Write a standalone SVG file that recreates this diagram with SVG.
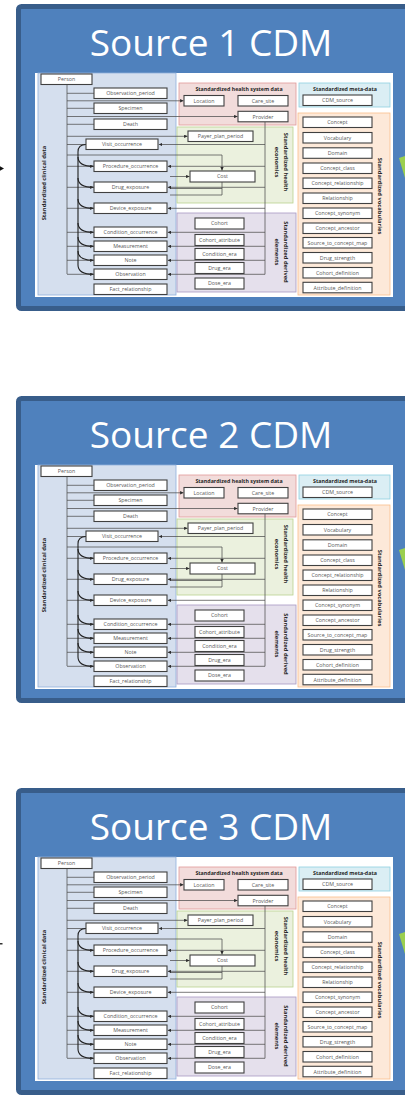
<svg xmlns="http://www.w3.org/2000/svg" width="405" height="1103" viewBox="0 0 405 1103">
  <style>
    .frame{fill:#4f81bd;stroke:#385d8a;stroke-width:5}
    .title{font-family:"Open Sans","Liberation Sans",sans-serif;font-size:37px;fill:#fff;text-anchor:middle}
    .sheet{fill:#fff}
    .clin{fill:#d5dfee;stroke:#8eaedb;stroke-width:0.8}
    .hsys{fill:#f2dcdb;stroke:#e09a9a;stroke-width:0.8}
    .econ{fill:#ebf1de;stroke:#b9d38e;stroke-width:0.8}
    .deriv{fill:#e5e0ec;stroke:#a898c4;stroke-width:0.8}
    .meta{fill:#dbeef4;stroke:#8fd0e2;stroke-width:0.8}
    .vocab{fill:#fde9d9;stroke:#f9be8c;stroke-width:0.8}
    .tbl rect{fill:#fff;stroke:#404040;stroke-width:1.1}
    .tbl text{font-family:"Open Sans","Liberation Sans",sans-serif;font-size:5.3px;fill:#595959;text-anchor:middle}
    .hdr{font-family:"Open Sans","Liberation Sans",sans-serif;font-weight:bold;font-size:5.3px;fill:#262626;text-anchor:middle}
    .vlab{font-family:"Open Sans","Liberation Sans",sans-serif;font-weight:bold;font-size:5.8px;fill:#262626;text-anchor:middle}
    .conn{fill:none;stroke:#4d4d4d;stroke-width:0.75}
    .curve{fill:none;stroke:#1f1f1f;stroke-width:1.1}
    .to{marker-end:url(#arr)}
    .green{fill:#9bcf4f}
  </style>
  <defs>
    <marker id="arr" viewBox="0 0 6 6" refX="6" refY="3" markerWidth="3.4" markerHeight="3.4" orient="auto" markerUnits="userSpaceOnUse">
      <path d="M0,0 L6,3 L0,6 z" fill="#2b2b2b"/>
    </marker>
  </defs>

  <!-- ============ Source 1 ============ -->
  <g id="source1">
    <rect class="frame" x="18.5" y="6.5" width="400" height="302" rx="3"/>
    <text class="title" x="211" y="56">Source 1 CDM</text>
    <rect class="sheet" x="35" y="73" width="358" height="224"/>
    <g id="s1-areas">
      <rect class="clin" x="38" y="73" width="138" height="222"/>
      <rect class="hsys" x="179" y="83" width="117" height="42"/>
      <rect class="econ" x="177" y="127" width="116" height="76"/>
      <rect class="deriv" x="177" y="213" width="119" height="79"/>
      <rect class="meta" x="299" y="83" width="91" height="24"/>
      <rect class="vocab" x="298" y="113" width="92" height="182"/>
      <text class="hdr" x="239" y="91">Standardized health system data</text>
      <text class="hdr" x="345" y="91">Standardized meta-data</text>
      <text class="vlab" transform="translate(46,183) rotate(-90)">Standardized clinical data</text>
      <text class="vlab" transform="translate(283.5,162) rotate(90)">Standardized health</text>
      <text class="vlab" transform="translate(274.5,162) rotate(90)">economics</text>
      <text class="vlab" transform="translate(283.5,252) rotate(90)">Standardized derived</text>
      <text class="vlab" transform="translate(274.5,252) rotate(90)">elements</text>
      <text class="vlab" transform="translate(377.5,196) rotate(90)">Standardized vocabularies</text>
    </g>
    <g id="s1-connectors">
      <path class="conn" d="M67,84.5 V274 M67,93.3 H94 M67,108.3 H94 M67,124.3 H94 M67,144.5 H86 M67,166.3 H94 M67,187.3 H94 M67,208.3 H94 M67,232.3 H94 M67,246.3 H94 M67,260.3 H94 M67,274.3 H94"/>
      <path class="conn to" d="M67,100.8 H183.5"/>
      <path class="conn to" d="M67,116.5 H237.5"/>
      <path class="conn to" d="M67,136.3 H187.5"/>
      <path class="conn to" d="M67,155 H222 V170.5"/>
      <path class="conn to" d="M170,176.5 H189.5"/>
      <path class="conn" d="M222,182 V195 H170 M222,188.5 H170"/>
      <path class="conn" d="M265,122 V274.3"/>
      <path class="conn to" d="M265,144.5 H158.8"/>
      <path class="conn to" d="M265,166.3 H167.8"/>
      <path class="conn to" d="M265,187.3 H167.8"/>
      <path class="conn to" d="M265,208.3 H167.8"/>
      <path class="conn to" d="M265,232.3 H167.8"/>
      <path class="conn to" d="M265,246.3 H167.8"/>
      <path class="conn to" d="M265,260.3 H167.8"/>
      <path class="conn to" d="M265,274.3 H167.8"/>
      <path class="curve" d="M86,144.5 C80,144.5 78,147 78,152 V265"/>
      <path class="curve to" d="M78,157 C78,163 83,166.3 93.5,166.3"/>
      <path class="curve to" d="M78,178 C78,184 83,187.3 93.5,187.3"/>
      <path class="curve to" d="M78,199 C78,205 83,208.3 93.5,208.3"/>
      <path class="curve to" d="M78,223 C78,229 83,232.3 93.5,232.3"/>
      <path class="curve to" d="M78,237 C78,243 83,246.3 93.5,246.3"/>
      <path class="curve to" d="M78,251 C78,257 83,260.3 93.5,260.3"/>
      <path class="curve to" d="M78,265 C78,271 83,274.3 93.5,274.3"/>
    </g>
    <g id="s1-person" class="tbl"><rect x="41" y="74" width="51" height="10.5"/><text x="66.5" y="81.2">Person</text></g>
    <g id="s1-observation-period" class="tbl"><rect x="94" y="88" width="73" height="10.5"/><text x="130.5" y="95.2">Observation_period</text></g>
    <g id="s1-specimen" class="tbl"><rect x="94" y="103" width="73" height="10.5"/><text x="130.5" y="110.2">Specimen</text></g>
    <g id="s1-death" class="tbl"><rect x="94" y="119" width="73" height="10.5"/><text x="130.5" y="126.2">Death</text></g>
    <g id="s1-visit-occurrence" class="tbl"><rect x="86" y="139" width="72" height="10.5"/><text x="122" y="146.2">Visit_occurrence</text></g>
    <g id="s1-procedure-occurrence" class="tbl"><rect x="94" y="161" width="73" height="10.5"/><text x="130.5" y="168.2">Procedure_occurrence</text></g>
    <g id="s1-drug-exposure" class="tbl"><rect x="94" y="182" width="73" height="10.5"/><text x="130.5" y="189.2">Drug_exposure</text></g>
    <g id="s1-device-exposure" class="tbl"><rect x="94" y="203" width="73" height="10.5"/><text x="130.5" y="210.2">Device_exposure</text></g>
    <g id="s1-condition-occurrence" class="tbl"><rect x="94" y="227" width="73" height="10.5"/><text x="130.5" y="234.2">Condition_occurrence</text></g>
    <g id="s1-measurement" class="tbl"><rect x="94" y="241" width="73" height="10.5"/><text x="130.5" y="248.2">Measurement</text></g>
    <g id="s1-note" class="tbl"><rect x="94" y="255" width="73" height="10.5"/><text x="130.5" y="262.2">Note</text></g>
    <g id="s1-observation" class="tbl"><rect x="94" y="269" width="73" height="10.5"/><text x="130.5" y="276.2">Observation</text></g>
    <g id="s1-fact-relationship" class="tbl"><rect x="94" y="284" width="73" height="10.5"/><text x="130.5" y="291.2">Fact_relationship</text></g>
    <g id="s1-location" class="tbl"><rect x="184" y="95.5" width="40" height="10.5"/><text x="204" y="102.7">Location</text></g>
    <g id="s1-care-site" class="tbl"><rect x="238" y="95.5" width="50" height="10.5"/><text x="263" y="102.7">Care_site</text></g>
    <g id="s1-provider" class="tbl"><rect x="238" y="111.3" width="50" height="10.5"/><text x="263" y="118.5">Provider</text></g>
    <g id="s1-payer-plan-period" class="tbl"><rect x="188" y="131" width="65" height="10.5"/><text x="220.5" y="138.2">Payer_plan_period</text></g>
    <g id="s1-cost" class="tbl"><rect x="190" y="171" width="65" height="11"/><text x="222.5" y="178.4">Cost</text></g>
    <g id="s1-cohort" class="tbl"><rect x="195" y="218" width="49" height="11"/><text x="219.5" y="225.4">Cohort</text></g>
    <g id="s1-cohort-attribute" class="tbl"><rect x="195" y="234.5" width="49" height="11"/><text x="219.5" y="241.9">Cohort_attribute</text></g>
    <g id="s1-condition-era" class="tbl"><rect x="195" y="248.5" width="49" height="11"/><text x="219.5" y="255.9">Condition_era</text></g>
    <g id="s1-drug-era" class="tbl"><rect x="195" y="262.5" width="49" height="11"/><text x="219.5" y="269.9">Drug_era</text></g>
    <g id="s1-dose-era" class="tbl"><rect x="195" y="278" width="49" height="11"/><text x="219.5" y="285.4">Dose_era</text></g>
    <g id="s1-cdm-source" class="tbl"><rect x="303" y="95" width="69" height="10.5"/><text x="337.5" y="102.2">CDM_source</text></g>
    <g id="s1-concept" class="tbl"><rect x="303" y="117" width="69" height="10.5"/><text x="337.5" y="124.2">Concept</text></g>
    <g id="s1-vocabulary" class="tbl"><rect x="303" y="132.5" width="69" height="10.5"/><text x="337.5" y="139.7">Vocabulary</text></g>
    <g id="s1-domain" class="tbl"><rect x="303" y="147.8" width="69" height="10.5"/><text x="337.5" y="155">Domain</text></g>
    <g id="s1-concept-class" class="tbl"><rect x="303" y="163" width="69" height="10.5"/><text x="337.5" y="170.2">Concept_class</text></g>
    <g id="s1-concept-relationship" class="tbl"><rect x="303" y="178" width="69" height="10.5"/><text x="337.5" y="185.2">Concept_relationship</text></g>
    <g id="s1-relationship" class="tbl"><rect x="303" y="193" width="69" height="10.5"/><text x="337.5" y="200.2">Relationship</text></g>
    <g id="s1-concept-synonym" class="tbl"><rect x="303" y="208" width="69" height="10.5"/><text x="337.5" y="215.2">Concept_synonym</text></g>
    <g id="s1-concept-ancestor" class="tbl"><rect x="303" y="223" width="69" height="10.5"/><text x="337.5" y="230.2">Concept_ancestor</text></g>
    <g id="s1-source-to-concept-map" class="tbl"><rect x="303" y="237.5" width="69" height="10.5"/><text x="337.5" y="244.7">Source_to_concept_map</text></g>
    <g id="s1-drug-strength" class="tbl"><rect x="303" y="252.5" width="69" height="10.5"/><text x="337.5" y="259.7">Drug_strength</text></g>
    <g id="s1-cohort-definition" class="tbl"><rect x="303" y="267.5" width="69" height="10.5"/><text x="337.5" y="274.7">Cohort_definition</text></g>
    <g id="s1-attribute-definition" class="tbl"><rect x="303" y="282.3" width="69" height="10.5"/><text x="337.5" y="289.5">Attribute_definition</text></g>
    <path d="M0,166.3 L4,168.5 L0,170.7 z" fill="#111"/>
    <polygon class="green" points="399,158 405,156 405,178"/>
  </g>

  <!-- ============ Source 2 ============ -->
  <g id="source2" transform="translate(0,392)">
    <rect class="frame" x="18.5" y="6.5" width="400" height="302" rx="3"/>
    <text class="title" x="211" y="56">Source 2 CDM</text>
    <rect class="sheet" x="35" y="73" width="358" height="224"/>
    <g id="s2-areas">
      <rect class="clin" x="38" y="73" width="138" height="222"/>
      <rect class="hsys" x="179" y="83" width="117" height="42"/>
      <rect class="econ" x="177" y="127" width="116" height="76"/>
      <rect class="deriv" x="177" y="213" width="119" height="79"/>
      <rect class="meta" x="299" y="83" width="91" height="24"/>
      <rect class="vocab" x="298" y="113" width="92" height="182"/>
      <text class="hdr" x="239" y="91">Standardized health system data</text>
      <text class="hdr" x="345" y="91">Standardized meta-data</text>
      <text class="vlab" transform="translate(46,183) rotate(-90)">Standardized clinical data</text>
      <text class="vlab" transform="translate(283.5,162) rotate(90)">Standardized health</text>
      <text class="vlab" transform="translate(274.5,162) rotate(90)">economics</text>
      <text class="vlab" transform="translate(283.5,252) rotate(90)">Standardized derived</text>
      <text class="vlab" transform="translate(274.5,252) rotate(90)">elements</text>
      <text class="vlab" transform="translate(377.5,196) rotate(90)">Standardized vocabularies</text>
    </g>
    <g id="s2-connectors">
      <path class="conn" d="M67,84.5 V274 M67,93.3 H94 M67,108.3 H94 M67,124.3 H94 M67,144.5 H86 M67,166.3 H94 M67,187.3 H94 M67,208.3 H94 M67,232.3 H94 M67,246.3 H94 M67,260.3 H94 M67,274.3 H94"/>
      <path class="conn to" d="M67,100.8 H183.5"/>
      <path class="conn to" d="M67,116.5 H237.5"/>
      <path class="conn to" d="M67,136.3 H187.5"/>
      <path class="conn to" d="M67,155 H222 V170.5"/>
      <path class="conn to" d="M170,176.5 H189.5"/>
      <path class="conn" d="M222,182 V195 H170 M222,188.5 H170"/>
      <path class="conn" d="M265,122 V274.3"/>
      <path class="conn to" d="M265,144.5 H158.8"/>
      <path class="conn to" d="M265,166.3 H167.8"/>
      <path class="conn to" d="M265,187.3 H167.8"/>
      <path class="conn to" d="M265,208.3 H167.8"/>
      <path class="conn to" d="M265,232.3 H167.8"/>
      <path class="conn to" d="M265,246.3 H167.8"/>
      <path class="conn to" d="M265,260.3 H167.8"/>
      <path class="conn to" d="M265,274.3 H167.8"/>
      <path class="curve" d="M86,144.5 C80,144.5 78,147 78,152 V265"/>
      <path class="curve to" d="M78,157 C78,163 83,166.3 93.5,166.3"/>
      <path class="curve to" d="M78,178 C78,184 83,187.3 93.5,187.3"/>
      <path class="curve to" d="M78,199 C78,205 83,208.3 93.5,208.3"/>
      <path class="curve to" d="M78,223 C78,229 83,232.3 93.5,232.3"/>
      <path class="curve to" d="M78,237 C78,243 83,246.3 93.5,246.3"/>
      <path class="curve to" d="M78,251 C78,257 83,260.3 93.5,260.3"/>
      <path class="curve to" d="M78,265 C78,271 83,274.3 93.5,274.3"/>
    </g>
    <g id="s2-person" class="tbl"><rect x="41" y="74" width="51" height="10.5"/><text x="66.5" y="81.2">Person</text></g>
    <g id="s2-observation-period" class="tbl"><rect x="94" y="88" width="73" height="10.5"/><text x="130.5" y="95.2">Observation_period</text></g>
    <g id="s2-specimen" class="tbl"><rect x="94" y="103" width="73" height="10.5"/><text x="130.5" y="110.2">Specimen</text></g>
    <g id="s2-death" class="tbl"><rect x="94" y="119" width="73" height="10.5"/><text x="130.5" y="126.2">Death</text></g>
    <g id="s2-visit-occurrence" class="tbl"><rect x="86" y="139" width="72" height="10.5"/><text x="122" y="146.2">Visit_occurrence</text></g>
    <g id="s2-procedure-occurrence" class="tbl"><rect x="94" y="161" width="73" height="10.5"/><text x="130.5" y="168.2">Procedure_occurrence</text></g>
    <g id="s2-drug-exposure" class="tbl"><rect x="94" y="182" width="73" height="10.5"/><text x="130.5" y="189.2">Drug_exposure</text></g>
    <g id="s2-device-exposure" class="tbl"><rect x="94" y="203" width="73" height="10.5"/><text x="130.5" y="210.2">Device_exposure</text></g>
    <g id="s2-condition-occurrence" class="tbl"><rect x="94" y="227" width="73" height="10.5"/><text x="130.5" y="234.2">Condition_occurrence</text></g>
    <g id="s2-measurement" class="tbl"><rect x="94" y="241" width="73" height="10.5"/><text x="130.5" y="248.2">Measurement</text></g>
    <g id="s2-note" class="tbl"><rect x="94" y="255" width="73" height="10.5"/><text x="130.5" y="262.2">Note</text></g>
    <g id="s2-observation" class="tbl"><rect x="94" y="269" width="73" height="10.5"/><text x="130.5" y="276.2">Observation</text></g>
    <g id="s2-fact-relationship" class="tbl"><rect x="94" y="284" width="73" height="10.5"/><text x="130.5" y="291.2">Fact_relationship</text></g>
    <g id="s2-location" class="tbl"><rect x="184" y="95.5" width="40" height="10.5"/><text x="204" y="102.7">Location</text></g>
    <g id="s2-care-site" class="tbl"><rect x="238" y="95.5" width="50" height="10.5"/><text x="263" y="102.7">Care_site</text></g>
    <g id="s2-provider" class="tbl"><rect x="238" y="111.3" width="50" height="10.5"/><text x="263" y="118.5">Provider</text></g>
    <g id="s2-payer-plan-period" class="tbl"><rect x="188" y="131" width="65" height="10.5"/><text x="220.5" y="138.2">Payer_plan_period</text></g>
    <g id="s2-cost" class="tbl"><rect x="190" y="171" width="65" height="11"/><text x="222.5" y="178.4">Cost</text></g>
    <g id="s2-cohort" class="tbl"><rect x="195" y="218" width="49" height="11"/><text x="219.5" y="225.4">Cohort</text></g>
    <g id="s2-cohort-attribute" class="tbl"><rect x="195" y="234.5" width="49" height="11"/><text x="219.5" y="241.9">Cohort_attribute</text></g>
    <g id="s2-condition-era" class="tbl"><rect x="195" y="248.5" width="49" height="11"/><text x="219.5" y="255.9">Condition_era</text></g>
    <g id="s2-drug-era" class="tbl"><rect x="195" y="262.5" width="49" height="11"/><text x="219.5" y="269.9">Drug_era</text></g>
    <g id="s2-dose-era" class="tbl"><rect x="195" y="278" width="49" height="11"/><text x="219.5" y="285.4">Dose_era</text></g>
    <g id="s2-cdm-source" class="tbl"><rect x="303" y="95" width="69" height="10.5"/><text x="337.5" y="102.2">CDM_source</text></g>
    <g id="s2-concept" class="tbl"><rect x="303" y="117" width="69" height="10.5"/><text x="337.5" y="124.2">Concept</text></g>
    <g id="s2-vocabulary" class="tbl"><rect x="303" y="132.5" width="69" height="10.5"/><text x="337.5" y="139.7">Vocabulary</text></g>
    <g id="s2-domain" class="tbl"><rect x="303" y="147.8" width="69" height="10.5"/><text x="337.5" y="155">Domain</text></g>
    <g id="s2-concept-class" class="tbl"><rect x="303" y="163" width="69" height="10.5"/><text x="337.5" y="170.2">Concept_class</text></g>
    <g id="s2-concept-relationship" class="tbl"><rect x="303" y="178" width="69" height="10.5"/><text x="337.5" y="185.2">Concept_relationship</text></g>
    <g id="s2-relationship" class="tbl"><rect x="303" y="193" width="69" height="10.5"/><text x="337.5" y="200.2">Relationship</text></g>
    <g id="s2-concept-synonym" class="tbl"><rect x="303" y="208" width="69" height="10.5"/><text x="337.5" y="215.2">Concept_synonym</text></g>
    <g id="s2-concept-ancestor" class="tbl"><rect x="303" y="223" width="69" height="10.5"/><text x="337.5" y="230.2">Concept_ancestor</text></g>
    <g id="s2-source-to-concept-map" class="tbl"><rect x="303" y="237.5" width="69" height="10.5"/><text x="337.5" y="244.7">Source_to_concept_map</text></g>
    <g id="s2-drug-strength" class="tbl"><rect x="303" y="252.5" width="69" height="10.5"/><text x="337.5" y="259.7">Drug_strength</text></g>
    <g id="s2-cohort-definition" class="tbl"><rect x="303" y="267.5" width="69" height="10.5"/><text x="337.5" y="274.7">Cohort_definition</text></g>
    <g id="s2-attribute-definition" class="tbl"><rect x="303" y="282.3" width="69" height="10.5"/><text x="337.5" y="289.5">Attribute_definition</text></g>
    <polygon class="green" points="399,158 405,156 405,178"/>
  </g>

  <!-- ============ Source 3 ============ -->
  <g id="source3" transform="translate(0,784)">
    <rect class="frame" x="18.5" y="6.5" width="400" height="302" rx="3"/>
    <text class="title" x="211" y="56">Source 3 CDM</text>
    <rect class="sheet" x="35" y="73" width="358" height="224"/>
    <g id="s3-areas">
      <rect class="clin" x="38" y="73" width="138" height="222"/>
      <rect class="hsys" x="179" y="83" width="117" height="42"/>
      <rect class="econ" x="177" y="127" width="116" height="76"/>
      <rect class="deriv" x="177" y="213" width="119" height="79"/>
      <rect class="meta" x="299" y="83" width="91" height="24"/>
      <rect class="vocab" x="298" y="113" width="92" height="182"/>
      <text class="hdr" x="239" y="91">Standardized health system data</text>
      <text class="hdr" x="345" y="91">Standardized meta-data</text>
      <text class="vlab" transform="translate(46,183) rotate(-90)">Standardized clinical data</text>
      <text class="vlab" transform="translate(283.5,162) rotate(90)">Standardized health</text>
      <text class="vlab" transform="translate(274.5,162) rotate(90)">economics</text>
      <text class="vlab" transform="translate(283.5,252) rotate(90)">Standardized derived</text>
      <text class="vlab" transform="translate(274.5,252) rotate(90)">elements</text>
      <text class="vlab" transform="translate(377.5,196) rotate(90)">Standardized vocabularies</text>
    </g>
    <g id="s3-connectors">
      <path class="conn" d="M67,84.5 V274 M67,93.3 H94 M67,108.3 H94 M67,124.3 H94 M67,144.5 H86 M67,166.3 H94 M67,187.3 H94 M67,208.3 H94 M67,232.3 H94 M67,246.3 H94 M67,260.3 H94 M67,274.3 H94"/>
      <path class="conn to" d="M67,100.8 H183.5"/>
      <path class="conn to" d="M67,116.5 H237.5"/>
      <path class="conn to" d="M67,136.3 H187.5"/>
      <path class="conn to" d="M67,155 H222 V170.5"/>
      <path class="conn to" d="M170,176.5 H189.5"/>
      <path class="conn" d="M222,182 V195 H170 M222,188.5 H170"/>
      <path class="conn" d="M265,122 V274.3"/>
      <path class="conn to" d="M265,144.5 H158.8"/>
      <path class="conn to" d="M265,166.3 H167.8"/>
      <path class="conn to" d="M265,187.3 H167.8"/>
      <path class="conn to" d="M265,208.3 H167.8"/>
      <path class="conn to" d="M265,232.3 H167.8"/>
      <path class="conn to" d="M265,246.3 H167.8"/>
      <path class="conn to" d="M265,260.3 H167.8"/>
      <path class="conn to" d="M265,274.3 H167.8"/>
      <path class="curve" d="M86,144.5 C80,144.5 78,147 78,152 V265"/>
      <path class="curve to" d="M78,157 C78,163 83,166.3 93.5,166.3"/>
      <path class="curve to" d="M78,178 C78,184 83,187.3 93.5,187.3"/>
      <path class="curve to" d="M78,199 C78,205 83,208.3 93.5,208.3"/>
      <path class="curve to" d="M78,223 C78,229 83,232.3 93.5,232.3"/>
      <path class="curve to" d="M78,237 C78,243 83,246.3 93.5,246.3"/>
      <path class="curve to" d="M78,251 C78,257 83,260.3 93.5,260.3"/>
      <path class="curve to" d="M78,265 C78,271 83,274.3 93.5,274.3"/>
    </g>
    <g id="s3-person" class="tbl"><rect x="41" y="74" width="51" height="10.5"/><text x="66.5" y="81.2">Person</text></g>
    <g id="s3-observation-period" class="tbl"><rect x="94" y="88" width="73" height="10.5"/><text x="130.5" y="95.2">Observation_period</text></g>
    <g id="s3-specimen" class="tbl"><rect x="94" y="103" width="73" height="10.5"/><text x="130.5" y="110.2">Specimen</text></g>
    <g id="s3-death" class="tbl"><rect x="94" y="119" width="73" height="10.5"/><text x="130.5" y="126.2">Death</text></g>
    <g id="s3-visit-occurrence" class="tbl"><rect x="86" y="139" width="72" height="10.5"/><text x="122" y="146.2">Visit_occurrence</text></g>
    <g id="s3-procedure-occurrence" class="tbl"><rect x="94" y="161" width="73" height="10.5"/><text x="130.5" y="168.2">Procedure_occurrence</text></g>
    <g id="s3-drug-exposure" class="tbl"><rect x="94" y="182" width="73" height="10.5"/><text x="130.5" y="189.2">Drug_exposure</text></g>
    <g id="s3-device-exposure" class="tbl"><rect x="94" y="203" width="73" height="10.5"/><text x="130.5" y="210.2">Device_exposure</text></g>
    <g id="s3-condition-occurrence" class="tbl"><rect x="94" y="227" width="73" height="10.5"/><text x="130.5" y="234.2">Condition_occurrence</text></g>
    <g id="s3-measurement" class="tbl"><rect x="94" y="241" width="73" height="10.5"/><text x="130.5" y="248.2">Measurement</text></g>
    <g id="s3-note" class="tbl"><rect x="94" y="255" width="73" height="10.5"/><text x="130.5" y="262.2">Note</text></g>
    <g id="s3-observation" class="tbl"><rect x="94" y="269" width="73" height="10.5"/><text x="130.5" y="276.2">Observation</text></g>
    <g id="s3-fact-relationship" class="tbl"><rect x="94" y="284" width="73" height="10.5"/><text x="130.5" y="291.2">Fact_relationship</text></g>
    <g id="s3-location" class="tbl"><rect x="184" y="95.5" width="40" height="10.5"/><text x="204" y="102.7">Location</text></g>
    <g id="s3-care-site" class="tbl"><rect x="238" y="95.5" width="50" height="10.5"/><text x="263" y="102.7">Care_site</text></g>
    <g id="s3-provider" class="tbl"><rect x="238" y="111.3" width="50" height="10.5"/><text x="263" y="118.5">Provider</text></g>
    <g id="s3-payer-plan-period" class="tbl"><rect x="188" y="131" width="65" height="10.5"/><text x="220.5" y="138.2">Payer_plan_period</text></g>
    <g id="s3-cost" class="tbl"><rect x="190" y="171" width="65" height="11"/><text x="222.5" y="178.4">Cost</text></g>
    <g id="s3-cohort" class="tbl"><rect x="195" y="218" width="49" height="11"/><text x="219.5" y="225.4">Cohort</text></g>
    <g id="s3-cohort-attribute" class="tbl"><rect x="195" y="234.5" width="49" height="11"/><text x="219.5" y="241.9">Cohort_attribute</text></g>
    <g id="s3-condition-era" class="tbl"><rect x="195" y="248.5" width="49" height="11"/><text x="219.5" y="255.9">Condition_era</text></g>
    <g id="s3-drug-era" class="tbl"><rect x="195" y="262.5" width="49" height="11"/><text x="219.5" y="269.9">Drug_era</text></g>
    <g id="s3-dose-era" class="tbl"><rect x="195" y="278" width="49" height="11"/><text x="219.5" y="285.4">Dose_era</text></g>
    <g id="s3-cdm-source" class="tbl"><rect x="303" y="95" width="69" height="10.5"/><text x="337.5" y="102.2">CDM_source</text></g>
    <g id="s3-concept" class="tbl"><rect x="303" y="117" width="69" height="10.5"/><text x="337.5" y="124.2">Concept</text></g>
    <g id="s3-vocabulary" class="tbl"><rect x="303" y="132.5" width="69" height="10.5"/><text x="337.5" y="139.7">Vocabulary</text></g>
    <g id="s3-domain" class="tbl"><rect x="303" y="147.8" width="69" height="10.5"/><text x="337.5" y="155">Domain</text></g>
    <g id="s3-concept-class" class="tbl"><rect x="303" y="163" width="69" height="10.5"/><text x="337.5" y="170.2">Concept_class</text></g>
    <g id="s3-concept-relationship" class="tbl"><rect x="303" y="178" width="69" height="10.5"/><text x="337.5" y="185.2">Concept_relationship</text></g>
    <g id="s3-relationship" class="tbl"><rect x="303" y="193" width="69" height="10.5"/><text x="337.5" y="200.2">Relationship</text></g>
    <g id="s3-concept-synonym" class="tbl"><rect x="303" y="208" width="69" height="10.5"/><text x="337.5" y="215.2">Concept_synonym</text></g>
    <g id="s3-concept-ancestor" class="tbl"><rect x="303" y="223" width="69" height="10.5"/><text x="337.5" y="230.2">Concept_ancestor</text></g>
    <g id="s3-source-to-concept-map" class="tbl"><rect x="303" y="237.5" width="69" height="10.5"/><text x="337.5" y="244.7">Source_to_concept_map</text></g>
    <g id="s3-drug-strength" class="tbl"><rect x="303" y="252.5" width="69" height="10.5"/><text x="337.5" y="259.7">Drug_strength</text></g>
    <g id="s3-cohort-definition" class="tbl"><rect x="303" y="267.5" width="69" height="10.5"/><text x="337.5" y="274.7">Cohort_definition</text></g>
    <g id="s3-attribute-definition" class="tbl"><rect x="303" y="282.3" width="69" height="10.5"/><text x="337.5" y="289.5">Attribute_definition</text></g>
    <rect x="0" y="159" width="2.5" height="1.5" fill="#333"/>
    <polygon class="green" points="399,150 405,148 405,170"/>
  </g>
</svg>
